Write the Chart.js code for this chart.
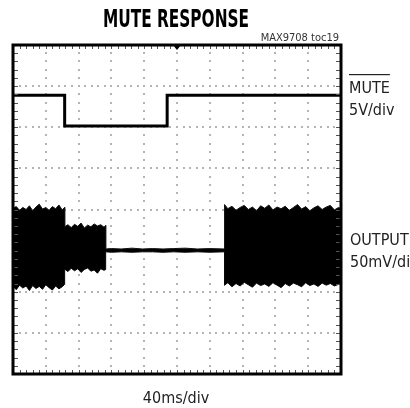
<!DOCTYPE html>
<html>
<head>
<meta charset="utf-8">
<script src="https://cdn.jsdelivr.net/npm/chart.js@4/dist/chart.umd.min.js"></script>
<style>
  html, body { margin: 0; padding: 0; background: #fff; }
  #wrap { position: relative; width: 410px; height: 408px; }
</style>
</head>
<body>
<div id="wrap"><canvas id="scope" width="410" height="408"></canvas></div>
<script>
// time in ms (40ms/div, 10 div across), level in screen divisions (8 div, 0 = centre)
const timeGrid = [0, 40, 80, 120, 160, 200, 240, 280, 320, 360, 400];
const divGrid = [-4, -3, -2, -1, 0, 1, 2, 3, 4];

// MUTE input (5V/div)
const muteTime  = [0, 63, 63, 188, 188, 400];
const muteLevel = [2.78, 2.78, 2.03, 2.03, 2.78, 2.78];

// OUTPUT envelope (50mV/div): upper and lower edge of the noise band
const outTime = [
  0, 4, 8, 12, 16, 20, 24, 28, 32, 36, 40, 44, 48, 52, 56, 60, 63,
  63, 67, 71, 75, 79, 83, 87, 91, 95, 99, 103, 107, 111, 113,
  113, 120, 132, 145, 158, 170, 183, 196, 210, 225, 240, 258,
  258, 262, 267, 272, 277, 282, 287, 292, 297, 302, 307, 312, 317, 322, 327,
  332, 337, 342, 347, 352, 357, 362, 367, 372, 377, 382, 387, 392, 397, 400
];
const outTop = [
  0.03, 0.07, -0.02, 0.05, 0.00, 0.09, -0.03, 0.06, 0.13, 0.01, 0.05, -0.02, 0.07, 0.02, 0.11, -0.01, 0.05,
  -0.42, -0.37, -0.44, -0.36, -0.41, -0.33, -0.45, -0.38, -0.42, -0.35, -0.40, -0.37, -0.43, -0.39,
  -0.96, -0.95, -0.96, -0.94, -0.96, -0.95, -0.96, -0.95, -0.94, -0.96, -0.95, -0.96,
  0.12, 0.02, 0.08, -0.02, 0.05, 0.10, 0.00, 0.06, -0.03, 0.09, 0.03, 0.11, -0.01, 0.06, 0.02,
  0.08, -0.02, 0.05, 0.12, 0.01, 0.07, -0.03, 0.04, 0.09, 0.00, 0.06, 0.10, -0.01, 0.05, 0.02
];
const outBottom = [
  -1.87, -1.95, -1.84, -1.91, -1.86, -1.97, -1.85, -1.92, -1.87, -1.94, -1.83, -1.90, -1.96, -1.86, -1.93, -1.88, -1.82,
  -1.45, -1.51, -1.43, -1.49, -1.44, -1.53, -1.46, -1.42, -1.50, -1.47, -1.55, -1.44, -1.48, -1.46,
  -1.03, -1.04, -1.03, -1.04, -1.03, -1.03, -1.04, -1.03, -1.04, -1.03, -1.04, -1.03,
  -1.84, -1.78, -1.88, -1.80, -1.86, -1.77, -1.83, -1.89, -1.79, -1.85, -1.81, -1.87, -1.78, -1.84, -1.90,
  -1.80, -1.86, -1.79, -1.83, -1.88, -1.78, -1.85, -1.81, -1.87, -1.79, -1.84, -1.80, -1.86, -1.82, -1.79
];

const FONT = "'Liberation Sans Narrow', 'DejaVu Sans Condensed', sans-serif";

const toPoints = (xs, ys) => xs.map((t, i) => ({ x: t, y: ys[i] }));

// oscilloscope graticule: dotted division lines, border ticks, frame, trigger mark
const graticule = {
  id: "graticule",
  beforeDatasetsDraw(chart) {
    const { ctx, scales: { x, y } } = chart;
    ctx.save();
    ctx.fillStyle = "#b4b4b4";
    divGrid.slice(1, -1).forEach(v => {
      const py = Math.round(y.getPixelForValue(v));
      for (let t = 0; t <= 400; t += 8) {
        const px = Math.round(x.getPixelForValue(t));
        ctx.fillRect(px - 1, py - 1, 2, 2);
      }
    });
    timeGrid.slice(1, -1).forEach(t => {
      const px = Math.round(x.getPixelForValue(t));
      for (let k = 0; k <= 40; k++) {
        const py = Math.round(y.getPixelForValue(-4 + k * 0.2));
        ctx.fillRect(px - 1, py - 1, 2, 2);
      }
    });
    ctx.restore();
  },
  afterDatasetsDraw(chart) {
    const { ctx, chartArea: a, scales: { x, y } } = chart;
    ctx.save();
    ctx.strokeStyle = "#555";
    ctx.lineWidth = 1;
    ctx.beginPath();
    for (let k = 1; k < 40; k++) {
      const py = Math.round(y.getPixelForValue(-4 + k * 0.2)) + 0.5;
      ctx.moveTo(a.left, py); ctx.lineTo(a.left + 5, py);
      ctx.moveTo(a.right, py); ctx.lineTo(a.right - 5, py);
    }
    for (let k = 1; k < 50; k++) {
      const px = Math.round(x.getPixelForValue(k * 8)) + 0.5;
      ctx.moveTo(px, a.top); ctx.lineTo(px, a.top + 4);
      ctx.moveTo(px, a.bottom); ctx.lineTo(px, a.bottom - 4);
    }
    ctx.stroke();

    ctx.strokeStyle = "#000";
    ctx.lineWidth = 3;
    ctx.strokeRect(a.left, a.top, a.right - a.left, a.bottom - a.top);

    const cx = x.getPixelForValue(200);
    ctx.fillStyle = "#000";
    ctx.beginPath();
    ctx.moveTo(cx - 4, a.top);
    ctx.lineTo(cx + 4, a.top);
    ctx.lineTo(cx, a.top + 5);
    ctx.closePath();
    ctx.fill();
    ctx.restore();
  },
  afterDraw(chart) {
    const { ctx } = chart;
    ctx.save();
    ctx.fillStyle = "#000";
    ctx.textAlign = "center";
    ctx.font = "bold 24px " + FONT;
    ctx.fillText("MUTE RESPONSE", 176, 27, 146);

    ctx.fillStyle = "#333";
    ctx.textAlign = "right";
    ctx.font = "11px " + FONT;
    ctx.fillText("MAX9708 toc19", 339, 41);

    ctx.textAlign = "left";
    ctx.font = "16px " + FONT;
    ctx.fillStyle = "#222";
    ctx.fillText("MUTE", 349, 93);
    const w = ctx.measureText("MUTE").width;
    ctx.fillRect(349, 74, w, 1.2);
    ctx.fillText("5V/div", 349, 115);
    ctx.fillText("OUTPUT", 350, 245);
    ctx.fillText("50mV/div", 350, 267);

    ctx.textAlign = "center";
    ctx.fillText("40ms/div", 176, 403);
    ctx.restore();
  }
};

new Chart(document.getElementById("scope"), {
  type: "line",
  data: {
    datasets: [
      {
        label: "MUTE",
        data: toPoints(muteTime, muteLevel),
        borderColor: "#000",
        borderWidth: 3,
        pointRadius: 0,
        fill: false
      },
      {
        label: "OUTPUT top",
        data: toPoints(outTime, outTop),
        borderColor: "#111",
        borderWidth: 1,
        backgroundColor: "#000",
        pointRadius: 0,
        fill: "+1"
      },
      {
        label: "OUTPUT bottom",
        data: toPoints(outTime, outBottom),
        borderColor: "#111",
        borderWidth: 1,
        pointRadius: 0,
        fill: false
      }
    ]
  },
  options: {
    responsive: false,
    animation: false,
    devicePixelRatio: 1,
    layout: { padding: { left: 13, right: 69, top: 45, bottom: 34 } },
    plugins: {
      legend: { display: false },
      title: { display: false },
      tooltip: { enabled: false }
    },
    scales: {
      x: { type: "linear", min: 0, max: 400, display: false },
      y: { type: "linear", min: -4, max: 4, display: false }
    }
  },
  plugins: [graticule]
});
</script>
</body>
</html>
